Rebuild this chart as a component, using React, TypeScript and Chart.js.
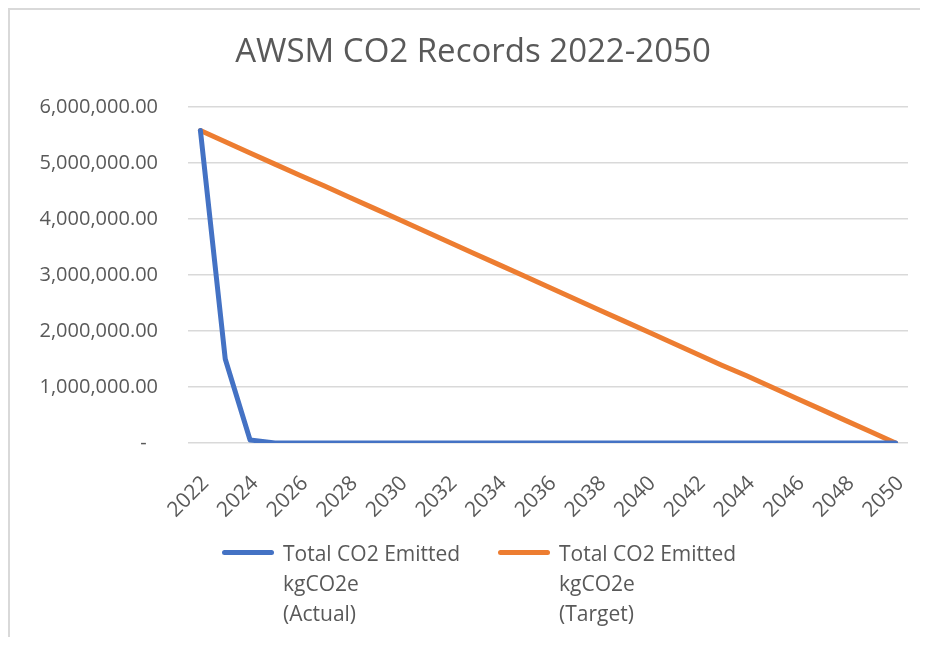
import React, { useEffect, useRef } from "react";
import { Chart, registerables } from "chart.js";

Chart.register(...registerables);

const years: string[] = [
  "2022", "2023", "2024", "2025", "2026", "2027", "2028", "2029", "2030", "2031",
  "2032", "2033", "2034", "2035", "2036", "2037", "2038", "2039", "2040", "2041",
  "2042", "2043", "2044", "2045", "2046", "2047", "2048", "2049", "2050",
];

const actual: number[] = [
  5580000, 1500000, 55000, 2000, 0, 0, 0, 0, 0, 0,
  0, 0, 0, 0, 0, 0, 0, 0, 0, 0,
  0, 0, 0, 0, 0, 0, 0, 0, 0,
];

const target: number[] = [
  5580000, 5380000, 5180000, 4980000, 4780000, 4590000, 4390000, 4190000, 3990000, 3790000,
  3590000, 3390000, 3190000, 2990000, 2790000, 2590000, 2390000, 2190000, 1990000, 1790000,
  1590000, 1390000, 1200000, 1000000, 800000, 600000, 400000, 200000, 0,
];

const titleText = "AWSM CO2 Records 2022-2050";
const legendActual = ["Total CO2 Emitted", "kgCO2e", "(Actual)"];
const legendTarget = ["Total CO2 Emitted", "kgCO2e", "(Target)"];

const FONT = "'Open Sans', sans-serif";
const TEXT = "#595959";
const BLUE = "#4472C4";
const ORANGE = "#ED7D31";

const CW = 910;
const CH = 627;

export default function App() {
  const ref = useRef<HTMLCanvasElement | null>(null);

  useEffect(() => {
    if (!ref.current) return;
    const chart = new Chart(ref.current, {
      type: "line",
      data: {
        labels: years,
        datasets: [
          {
            label: legendActual.join(" "),
            data: actual,
            borderColor: BLUE,
            backgroundColor: BLUE,
            borderWidth: 5,
            pointRadius: 0,
            borderJoinStyle: "round",
            borderCapStyle: "round",
            tension: 0,
          },
          {
            label: legendTarget.join(" "),
            data: target,
            borderColor: ORANGE,
            backgroundColor: ORANGE,
            borderWidth: 5,
            pointRadius: 0,
            borderJoinStyle: "round",
            borderCapStyle: "round",
            tension: 0,
          },
        ],
      },
      options: {
        responsive: false,
        animation: false,
        layout: { padding: { top: 97, right: 12, left: 0, bottom: 0 } },
        plugins: {
          legend: { display: false },
          title: { display: false },
          tooltip: { enabled: false },
        },
        scales: {
          x: {
            offset: true,
            grid: { display: false, drawTicks: false },
            border: { display: false },
            ticks: {
              autoSkip: false,
              minRotation: 45,
              maxRotation: 45,
              padding: 28,
              labelOffset: 5,
              color: TEXT,
              font: { family: FONT, size: 21 },
              callback: (_v: any, i: number) => (i % 2 === 0 ? years[i] : null),
            },
            afterFit: (s: any) => {
              s.height = CH - 433;
              s.paddingLeft = 0;
              s.paddingRight = 0;
            },
          },
          y: {
            min: 0,
            max: 6000000,
            grid: { color: "#d9d9d9", lineWidth: 1.5, drawTicks: false },
            border: { display: false },
            ticks: {
              stepSize: 1000000,
              padding: 30,
              color: TEXT,
              font: { family: FONT, size: 20 },
              callback: (v: any) =>
                Number(v) === 0
                  ? "-\u2007"
                  : Number(v).toLocaleString("en-US", {
                      minimumFractionDigits: 2,
                      maximumFractionDigits: 2,
                    }),
            },
            afterFit: (s: any) => {
              s.width = 178;
            },
          },
        },
      },
    });
    return () => chart.destroy();
  }, []);

  const legendItem = (lines: string[], color: string, left: number) => (
    <div style={{ position: "absolute", left, top: 528 }}>
      <div
        style={{
          position: "absolute",
          left: 0,
          top: 12,
          width: 52,
          height: 5,
          borderRadius: 3,
          background: color,
        }}
      />
      <div
        style={{
          position: "absolute",
          left: 61,
          top: 0,
          whiteSpace: "nowrap",
          fontFamily: FONT,
          fontSize: 21,
          lineHeight: "30px",
          color: TEXT,
        }}
      >
        {lines.map((l, i) => (
          <div key={i}>{l}</div>
        ))}
      </div>
    </div>
  );

  return (
    <div
      style={{
        position: "relative",
        width: 912,
        height: 629,
        boxSizing: "border-box",
        borderTop: "2px solid #d9d9d9",
        borderLeft: "2px solid #d9d9d9",
        background: "#fff",
        overflow: "hidden",
      }}
    >
      <canvas
        ref={ref}
        width={CW}
        height={CH}
        style={{ position: "absolute", left: 0, top: 0, width: CW, height: CH }}
      />
      <div
        style={{
          position: "absolute",
          left: 0,
          width: 926,
          top: 20,
          textAlign: "center",
          fontFamily: FONT,
          fontSize: 33,
          lineHeight: "40px",
          color: TEXT,
          whiteSpace: "nowrap",
        }}
      >
        {titleText}
      </div>
      {legendItem(legendActual, BLUE, 212)}
      {legendItem(legendTarget, ORANGE, 488)}
    </div>
  );
}
